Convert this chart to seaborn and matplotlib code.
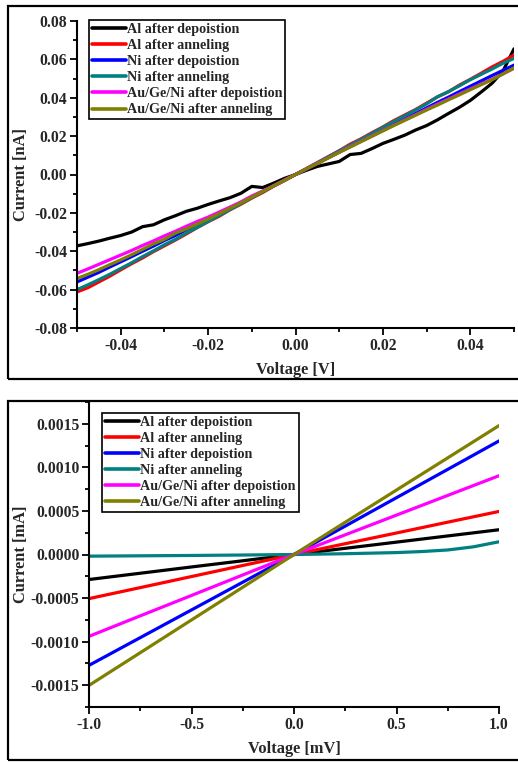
import numpy as np
import pandas as pd
import matplotlib
matplotlib.use("Agg")
import matplotlib.pyplot as plt
from matplotlib.patches import Rectangle
from matplotlib.ticker import MultipleLocator, FormatStrFormatter
import seaborn as sns

# ---------------- data ----------------
labels = ["Al after depoistion", "Al after anneling", "Ni after depoistion",
          "Ni after anneling", "Au/Ge/Ni after depoistion", "Au/Ge/Ni after anneling"]
colors = ["#000000", "#ff0000", "#0000ff", "#008080", "#ff00ff", "#808000"]

# upper panel: voltage [V] and current [nA]
volt_v = [-0.0500, -0.0475, -0.0450, -0.0425, -0.0400, -0.0375, -0.0350, -0.0325,
          -0.0300, -0.0275, -0.0250, -0.0225, -0.0200, -0.0175, -0.0150, -0.0125,
          -0.0100, -0.0075, -0.0050, -0.0025, 0.0000, 0.0025, 0.0050, 0.0075,
          0.0100, 0.0125, 0.0150, 0.0175, 0.0200, 0.0225, 0.0250, 0.0275,
          0.0300, 0.0325, 0.0350, 0.0375, 0.0400, 0.0425, 0.0450, 0.0475, 0.0500]

al_dep_na = [-0.0372, -0.0360, -0.0347, -0.0332, -0.0318, -0.0300, -0.0272, -0.0262,
             -0.0236, -0.0215, -0.0192, -0.0176, -0.0156, -0.0138, -0.0121, -0.0098,
             -0.0062, -0.0068, -0.0045, -0.0020, 0.0000, 0.0022, 0.0042, 0.0055,
             0.0068, 0.0104, 0.0110, 0.0135, 0.0162, 0.0183, 0.0205, 0.0232,
             0.0255, 0.0285, 0.0318, 0.0350, 0.0386, 0.0430, 0.0476, 0.0540, 0.0655]
al_ann_na = [-0.0612, -0.0590, -0.0560, -0.0530, -0.0497, -0.0465, -0.0435, -0.0402,
             -0.0372, -0.0342, -0.0310, -0.0277, -0.0246, -0.0218, -0.0184, -0.0155,
             -0.0123, -0.0094, -0.0061, -0.0032, 0.0000, 0.0031, 0.0062, 0.0093,
             0.0124, 0.0158, 0.0186, 0.0218, 0.0248, 0.0281, 0.0310, 0.0339,
             0.0372, 0.0405, 0.0431, 0.0466, 0.0496, 0.0528, 0.0561, 0.0590, 0.0623]
ni_dep_na = [-0.0560, -0.0535, -0.0510, -0.0482, -0.0455, -0.0428, -0.0400, -0.0373,
             -0.0344, -0.0318, -0.0288, -0.0260, -0.0232, -0.0204, -0.0173, -0.0146,
             -0.0117, -0.0088, -0.0058, -0.0029, 0.0000, 0.0029, 0.0058, 0.0088,
             0.0117, 0.0146, 0.0175, 0.0204, 0.0233, 0.0262, 0.0290, 0.0318,
             0.0347, 0.0376, 0.0403, 0.0432, 0.0460, 0.0488, 0.0516, 0.0543, 0.0570]
ni_ann_na = [-0.0600, -0.0575, -0.0548, -0.0520, -0.0490, -0.0460, -0.0428, -0.0398,
             -0.0366, -0.0338, -0.0305, -0.0276, -0.0245, -0.0214, -0.0183, -0.0152,
             -0.0121, -0.0090, -0.0060, -0.0030, 0.0000, 0.0030, 0.0061, 0.0092,
             0.0123, 0.0153, 0.0183, 0.0214, 0.0245, 0.0276, 0.0306, 0.0336,
             0.0368, 0.0405, 0.0432, 0.0462, 0.0494, 0.0522, 0.0550, 0.0580, 0.0605]
agn_dep_na = [-0.0515, -0.0492, -0.0468, -0.0444, -0.0420, -0.0396, -0.0370, -0.0346,
              -0.0320, -0.0296, -0.0270, -0.0245, -0.0222, -0.0196, -0.0170, -0.0143,
              -0.0112, -0.0086, -0.0058, -0.0028, 0.0000, 0.0029, 0.0058, 0.0087,
              0.0116, 0.0145, 0.0173, 0.0201, 0.0229, 0.0257, 0.0285, 0.0312,
              0.0340, 0.0367, 0.0393, 0.0420, 0.0446, 0.0472, 0.0497, 0.0525, 0.0553]
agn_ann_na = [-0.0542, -0.0520, -0.0496, -0.0470, -0.0445, -0.0418, -0.0390, -0.0362,
              -0.0338, -0.0306, -0.0284, -0.0258, -0.0232, -0.0205, -0.0176, -0.0148,
              -0.0118, -0.0089, -0.0059, -0.0030, 0.0000, 0.0029, 0.0057, 0.0086,
              0.0115, 0.0143, 0.0171, 0.0199, 0.0227, 0.0255, 0.0282, 0.0309,
              0.0336, 0.0362, 0.0389, 0.0415, 0.0442, 0.0468, 0.0494, 0.0524, 0.0556]

# lower panel: voltage [mV] and current [mA]
volt_mv = [-1.0, -0.75, -0.5, -0.25, 0.0, 0.25, 0.5, 0.75, 1.0]
al_dep_ma = [-0.000287, -0.000215, -0.000143, -0.000072, 0.0, 0.000071, 0.000142, 0.000213, 0.000284]
al_ann_ma = [-0.000506, -0.000380, -0.000253, -0.000126, 0.0, 0.000124, 0.000247, 0.000371, 0.000494]
ni_dep_ma = [-0.001272, -0.000954, -0.000636, -0.000318, 0.0, 0.000326, 0.000652, 0.000977, 0.001303]
volt_mv_ni_ann = [-1.0, -0.75, -0.5, -0.25, 0.0, 0.25, 0.5, 0.625, 0.75, 0.875, 1.0]
ni_ann_ma = [-0.000019, -0.000015, -0.000011, -0.000006, 0.0, 0.000009, 0.000022,
             0.000034, 0.000052, 0.000088, 0.000146]
agn_dep_ma = [-0.000939, -0.000704, -0.000470, -0.000235, 0.0, 0.000226, 0.000452, 0.000678, 0.000904]
agn_ann_ma = [-0.001502, -0.001127, -0.000751, -0.000376, 0.0, 0.000370, 0.000740, 0.001109, 0.001479]

# ---------------- style ----------------
sns.set_theme(style="ticks")
plt.rcParams["font.family"] = ["Liberation Serif", "DejaVu Serif"]
plt.rcParams["font.weight"] = "bold"
plt.rcParams["axes.labelweight"] = "bold"
plt.rcParams["axes.unicode_minus"] = False

W, H = 518, 762
fig = plt.figure(figsize=(W / 100, H / 100), dpi=100)
fig.patch.set_facecolor("white")

# framed boxes around each panel
for (y_top, y_bot) in [(6, 379), (401, 760)]:
    fig.add_artist(Rectangle((8 / W, 1 - y_bot / H), 1.2, (y_bot - y_top) / H,
                             transform=fig.transFigure, fill=False,
                             edgecolor="black", linewidth=1.6))

ax1 = fig.add_axes([77 / W, 1 - 328 / H, 437 / W, 307 / H])
ax2 = fig.add_axes([89 / W, 1 - 707 / H, 410 / W, 305 / H])

LW = 2.3
top_series = [al_dep_na, al_ann_na, ni_dep_na, ni_ann_na, agn_dep_na, agn_ann_na]
for lab, col, cur in zip(labels, colors, top_series):
    sns.lineplot(x=volt_v, y=cur, color=col, linewidth=LW, label=lab,
                 sort=False, ax=ax1)

bottom_x = [volt_mv, volt_mv, volt_mv, volt_mv_ni_ann, volt_mv, volt_mv]
bottom_series = [al_dep_ma, al_ann_ma, ni_dep_ma, ni_ann_ma, agn_dep_ma, agn_ann_ma]
for lab, col, vx, cur in zip(labels, colors, bottom_x, bottom_series):
    sns.lineplot(x=vx, y=cur, color=col, linewidth=LW, label=lab,
                 sort=False, ax=ax2)


def style_axes(ax, xlim, ylim, xmaj, xmin, ymaj, ymin, xfmt, yfmt,
               xlabel, ylabel, ylab_x, xlab_y, leg_anchor):
    ax.set_xlim(*xlim)
    ax.set_ylim(*ylim)
    ax.xaxis.set_major_locator(MultipleLocator(xmaj))
    ax.xaxis.set_minor_locator(MultipleLocator(xmin))
    ax.yaxis.set_major_locator(MultipleLocator(ymaj))
    ax.yaxis.set_minor_locator(MultipleLocator(ymin))
    ax.xaxis.set_major_formatter(FormatStrFormatter(xfmt))
    ax.yaxis.set_major_formatter(FormatStrFormatter(yfmt))
    for s in ["top", "right"]:
        ax.spines[s].set_visible(False)
    for s in ["left", "bottom"]:
        ax.spines[s].set_linewidth(1.5)
        ax.spines[s].set_color("black")
    ax.tick_params(which="major", direction="out", length=5, width=1.3,
                   color="black", labelsize=11.3, pad=2)
    ax.tick_params(which="minor", direction="out", length=3, width=1.3,
                   color="black")
    for t in ax.get_xticklabels() + ax.get_yticklabels():
        t.set_fontweight("bold")
    ax.set_xlabel(xlabel, fontsize=11.8, fontweight="bold")
    ax.set_ylabel(ylabel, fontsize=11.8, fontweight="bold")
    ax.yaxis.set_label_coords(ylab_x, 0.5)
    ax.xaxis.set_label_coords(0.5, xlab_y)
    ax.set_facecolor("white")
    ax.grid(False)
    leg = ax.legend(loc="upper left", bbox_to_anchor=leg_anchor,
                    prop={"family": ["Liberation Serif"], "weight": "bold", "size": 10.2},
                    frameon=True, fancybox=False, framealpha=1,
                    edgecolor="black", handlelength=2.4, handletextpad=0.1,
                    borderpad=0.2, labelspacing=0.22, borderaxespad=0)
    leg.get_frame().set_linewidth(1.2)
    for h in leg.get_lines():
        h.set_linewidth(2.6)


style_axes(ax1, (-0.05, 0.05), (-0.08, 0.08), 0.02, 0.01, 0.02, 0.01,
           "%.2f", "%.2f", "Voltage [V]", "Current [nA]",
           -0.11, -0.11, (0.027, 1.003))
style_axes(ax2, (-1.0, 1.0), (-0.00175, 0.00175), 0.5, 0.25, 0.0005, 0.00025,
           "%.1f", "%.4f", "Voltage [mV]", "Current [mA]",
           -0.147, -0.11, (0.032, 0.964))

fig.savefig("out.png", dpi=100, facecolor="white")
